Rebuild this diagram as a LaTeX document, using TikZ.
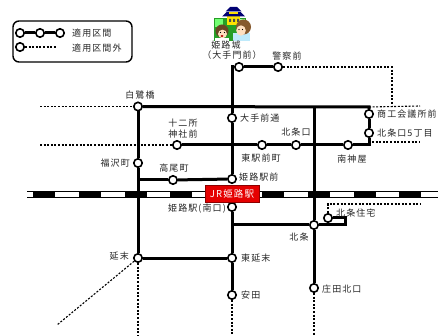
\documentclass[tikz,border=0pt]{standalone}
\usepackage{fontspec}
\newfontfamily\jpfont{Noto Sans CJK JP}[LetterSpace=12]
\begin{document}
\begin{tikzpicture}[x=1pt,y=-1pt,
  stn/.style={circle,draw=black,fill=white,line width=1.6pt,minimum size=8.4pt,inner sep=0pt},
  route/.style={line width=3pt,line join=miter},
  offroute/.style={line width=1.1pt,dash pattern=on 2pt off 1.6pt},
  lbl/.style={font=\jpfont\fontsize{9pt}{11pt}\selectfont,inner sep=0pt,text=black!85},
  rail/.style={line width=0.6pt},
]
\useasboundingbox (0,0) rectangle (438,336);
\clip (0,0) rectangle (438,336);

% ---------- legend ----------
\node[draw,line width=1.4pt,rounded corners=6pt,minimum width=119pt,minimum height=41pt,inner sep=0pt] (legend) at (72.5,41.5) {};
\node[stn] (lg1) at (20,33) {};
\node[stn] (lg2) at (40,33) {};
\node[stn] (lg3) at (60,33) {};
\node[stn] (lg4) at (20,47) {};
\coordinate (lgEnd) at (57,47);
\draw[route] (lg1) -- (lg2) (lg2) -- (lg3);
\draw[offroute] (lg4) -- (lgEnd);
\node[lbl,anchor=west] (lgt1) at (72,33) {適用区間};
\node[lbl,anchor=west] (lgt2) at (72,48) {適用区間外};

% ---------- castle illustration ----------
\fill[green!55!black!85] (214,18) rectangle (246,41);
\fill[green!55] (215,19) rectangle (223,27);
\fill[green!40] (240,19) rectangle (245,24);
\fill[yellow!85!orange] (227,15) rectangle (240,25);
\fill[blue!45!black] (222,16.5) -- (245,16.5) -- (240.5,12) -- (226.5,12) -- cycle;
\fill[blue!45!black] (225.5,11.5) -- (241.5,11.5) -- (237,7) -- (230,7) -- cycle;
\fill[yellow!80!orange] (229,12) rectangle (238,14.5);
\fill[black!70] (229,19) rectangle (231,22) (233,19) rectangle (235,22) (237,19) rectangle (239,22);
% two visitors
\fill[brown!55!black] (222,31) circle (6.5);
\fill[orange!25] (222.5,34) ellipse (4.5 and 4.3);
\fill[red!70!black] (222,36) ellipse (1.5 and 1.1);
\fill[black] (220.5,32.5) circle (0.6) (224.5,32.5) circle (0.6);
\fill[white] (215,38.5) rectangle (229,41);
\fill[cyan!25] (233,33) rectangle (250,41);
\fill[brown!70!black] (243.5,27) circle (7.5);
\fill[orange!25] (241,30.5) ellipse (4.8 and 5.2);
\fill[black] (239,29.5) circle (0.7) (242.5,29.5) circle (0.7);

% ---------- railway ----------
\draw[rail] (27,191) -- (438,191) (27,197) -- (438,197);
\draw[line width=6pt,dash pattern=on 22pt off 23.8pt] (33,194) -- (438,194);

% ---------- stations ----------
\node[stn] (himejijo) at (239,67) {};
\node[stn] (keisatsu) at (278,67) {};
\node[stn] (hakuro) at (138,106.5) {};
\node[stn] (otemae) at (232,118) {};
\node[stn] (juniso) at (177,145) {};
\node[stn] (higashieki) at (262,145) {};
\node[stn] (hojoguchi) at (296,145) {};
\node[stn] (minamigami) at (348,145) {};
\node[stn] (shoko) at (369,114) {};
\node[stn] (hojo5) at (369,133) {};
\node[stn] (fukuzawa) at (138,163) {};
\node[stn] (takao) at (173,180) {};
\node[stn] (ekimae) at (232,179) {};
\node[stn] (minamiguchi) at (232,207) {};
\node[stn] (higashinobe) at (232,258) {};
\node[stn] (yasuda) at (232,295) {};
\node[stn] (hojo) at (314,225) {};
\node[stn] (jutaku) at (328,218) {};
\node[stn] (shoda) at (314,288) {};
\node[stn] (nobesue) at (138,258) {};

% ---------- corner and end points ----------
\coordinate (castleCorner) at (232,67);
\coordinate (northEast) at (369,107);
\coordinate (midEast) at (369,145);
\coordinate (northT) at (314,107);
\coordinate (takaoT) at (138,180);
\coordinate (southW) at (232,225);
\coordinate (loopA) at (345,225);
\coordinate (loopB) at (345,218);
\coordinate (dotK) at (392,67);
\coordinate (dotKs) at (392,106);
\coordinate (dotNE) at (420,106);
\coordinate (dotMEs) at (372,142);
\coordinate (dotME) at (420,142);
\coordinate (dotNW) at (40,106.5);
\coordinate (dotMW) at (40,145);
\coordinate (dotJu) at (328,204);
\coordinate (dotJuE) at (420,204);
\coordinate (dotDiag) at (57,325);
\coordinate (dotNs) at (138,336);
\coordinate (dotYs) at (232,336);
\coordinate (dotSs) at (314,336);

% ---------- routes ----------
\draw[route] (himejijo) -- (castleCorner) -- (otemae);
\draw[route] (otemae) -- (ekimae);
\draw[route] (himejijo) -- (keisatsu);
\draw[route] (hakuro) -- (northEast) -- (shoko);
\draw[route] (shoko) -- (hojo5);
\draw[route] (hojo5) -- (midEast) -- (minamigami);
\draw[route] (minamigami) -- (hojoguchi);
\draw[route] (hojoguchi) -- (higashieki);
\draw[route] (higashieki) -- (juniso);
\draw[route] (hakuro) -- (fukuzawa);
\draw[route] (fukuzawa) -- (nobesue);
\draw[route] (takaoT) -- (takao);
\draw[route] (takao) -- (ekimae);
\draw[route] (northT) -- (hojo);
\draw[route] (hojo) -- (shoda);
\draw[route] (southW) -- (hojo);
\draw[route] (hojo) -- (loopA) -- (loopB) -- (jutaku);
\draw[route] (nobesue) -- (higashinobe);
\draw[route] (minamiguchi) -- (higashinobe);
\draw[route] (higashinobe) -- (yasuda);

% ---------- lines outside the fare zone ----------
\draw[offroute] (keisatsu) -- (dotK) -- (dotKs);
\draw[offroute] (northEast) -- (dotNE);
\draw[offroute] (dotMEs) -- (dotME);
\draw[offroute] (dotNW) -- (hakuro);
\draw[offroute] (dotMW) -- (juniso);
\draw[offroute] (jutaku) -- (dotJu) -- (dotJuE);
\draw[offroute] (nobesue) -- (dotDiag);
\draw[offroute] (nobesue) -- (dotNs);
\draw[offroute] (yasuda) -- (dotYs);
\draw[offroute] (shoda) -- (dotSs);

% ---------- JR station ----------
\node[fill=red!90!black,draw=red!55!black,line width=0.6pt,minimum width=54pt,minimum height=17pt,inner sep=0pt,
      text=white,font=\jpfont\fontsize{9.5pt}{11pt}\selectfont] (jr) at (232,193.5) {JR姫路駅};

% ---------- labels ----------
\node[lbl] (tHimejijo) at (226,45) {姫路城};
\node[lbl] (tOte) at (232,55) {（大手門前）};
\node[lbl] (tKeisatsu) at (287,56) {警察前};
\node[lbl] (tHakuro) at (140,95) {白鷺橋};
\node[lbl,anchor=west] (tOtemae) at (240,118) {大手前通};
\node[lbl,align=center] (tJuniso) at (183,129) {十二所\\神社前};
\node[lbl] (tHojoguchi) at (296,132) {北条口};
\node[lbl] (tHigashieki) at (261,158) {東駅前町};
\node[lbl] (tMinamigami) at (352,159) {南神屋};
\node[lbl,anchor=west] (tShoko) at (377,114) {商工会議所前};
\node[lbl,anchor=west] (tHojo5) at (377,133) {北条口5丁目};
\node[lbl,anchor=east] (tFukuzawa) at (130,163) {福沢町};
\node[lbl] (tTakao) at (174,168) {高尾町};
\node[lbl,anchor=west] (tEkimae) at (239,177) {姫路駅前};
\node[lbl,anchor=east] (tMinamiguchi) at (226,209) {姫路駅(南口)};
\node[lbl,anchor=west] (tJutaku) at (336,213) {北条住宅};
\node[lbl] (tHojo) at (299,237.5) {北条};
\node[lbl,anchor=west] (tHigashinobe) at (241,258) {東延末};
\node[lbl,anchor=west] (tYasuda) at (241,295.5) {安田};
\node[lbl,anchor=west] (tShoda) at (322,289) {庄田北口};
\node[lbl,anchor=east] (tNobesue) at (129,256) {延末};
\end{tikzpicture}
\end{document}
